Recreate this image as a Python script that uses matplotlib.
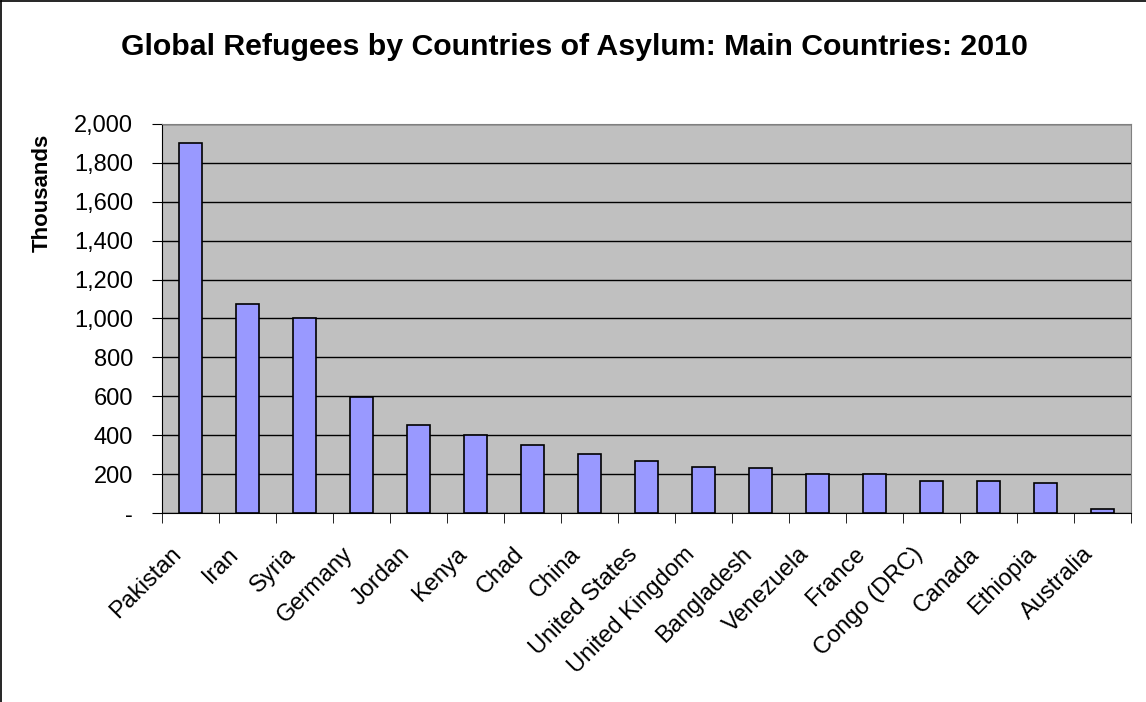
import matplotlib
matplotlib.use("Agg")
import matplotlib.pyplot as plt
from matplotlib.ticker import FuncFormatter, FixedLocator, NullFormatter
from matplotlib.lines import Line2D
from matplotlib.transforms import ScaledTranslation
import numpy as np

plt.rcParams['font.family'] = ['Liberation Sans', 'DejaVu Sans']

countries = ["Pakistan", "Iran", "Syria", "Germany", "Jordan", "Kenya", "Chad",
             "China", "United States", "United Kingdom", "Bangladesh", "Venezuela",
             "France", "Congo (DRC)", "Canada", "Ethiopia", "Australia"]
refugees_thousands = [1900, 1073, 1005, 594, 451, 403, 348, 301, 265, 238, 229,
                      201, 201, 166, 165, 155, 21]
y_ticks = [0, 200, 400, 600, 800, 1000, 1200, 1400, 1600, 1800, 2000]

fig = plt.figure(figsize=(11.46, 7.02), dpi=100)
ax = fig.add_axes([0.1414, 0.2692, 0.8455, 0.5542])
ax.set_facecolor("#C0C0C0")

x = np.arange(len(countries))
ax.bar(x, refugees_thousands, width=0.4, color="#9999FF", edgecolor="black",
       linewidth=1.2, zorder=3)

ax.set_xlim(-0.5, len(countries) - 0.5)
ax.set_ylim(0, 2000)
ax.set_yticks(y_ticks)
ax.yaxis.set_major_formatter(FuncFormatter(lambda v, p: "-" if v == 0 else f"{int(v):,}"))
ax.grid(axis="y", color="black", linewidth=1, zorder=1)

# category labels under the bars, ticks between categories
ax.set_xticks(x)
ax.set_xticklabels(countries, rotation=45, ha="right", rotation_mode="anchor",
                   fontsize=17)
ax.tick_params(axis="x", length=0, pad=16)
shift = ScaledTranslation(-0.20, -0.08, fig.dpi_scale_trans)
for lbl in ax.xaxis.get_majorticklabels():
    lbl.set_transform(lbl.get_transform() + shift)
ax.xaxis.set_minor_locator(FixedLocator(np.arange(-0.5, len(countries), 1.0)))
ax.xaxis.set_minor_formatter(NullFormatter())
ax.tick_params(axis="x", which="minor", length=7, color="black", direction="out")
ax.tick_params(axis="y", length=7, labelsize=17, pad=14)

for side in ["top", "right"]:
    ax.spines[side].set_color("#808080")
for side in ["left", "bottom"]:
    ax.spines[side].set_color("black")

fig.text(42 / 1146, 1 - 193 / 702, "Thousands", rotation=90, ha="center",
         va="center", fontsize=16, fontweight="bold")

fig.text(0.501, 0.933, "Global Refugees by Countries of Asylum: Main Countries: 2010",
         ha="center", va="center", fontsize=21.8, fontweight="bold")

# outer chart frame (left and top edges)
fig.add_artist(Line2D([0.001, 0.001], [0, 0.999], transform=fig.transFigure,
                      color="black", linewidth=1.2))
fig.add_artist(Line2D([0.001, 1.0], [0.999, 0.999], transform=fig.transFigure,
                      color="black", linewidth=1.2))

fig.savefig("out.png", dpi=100)
